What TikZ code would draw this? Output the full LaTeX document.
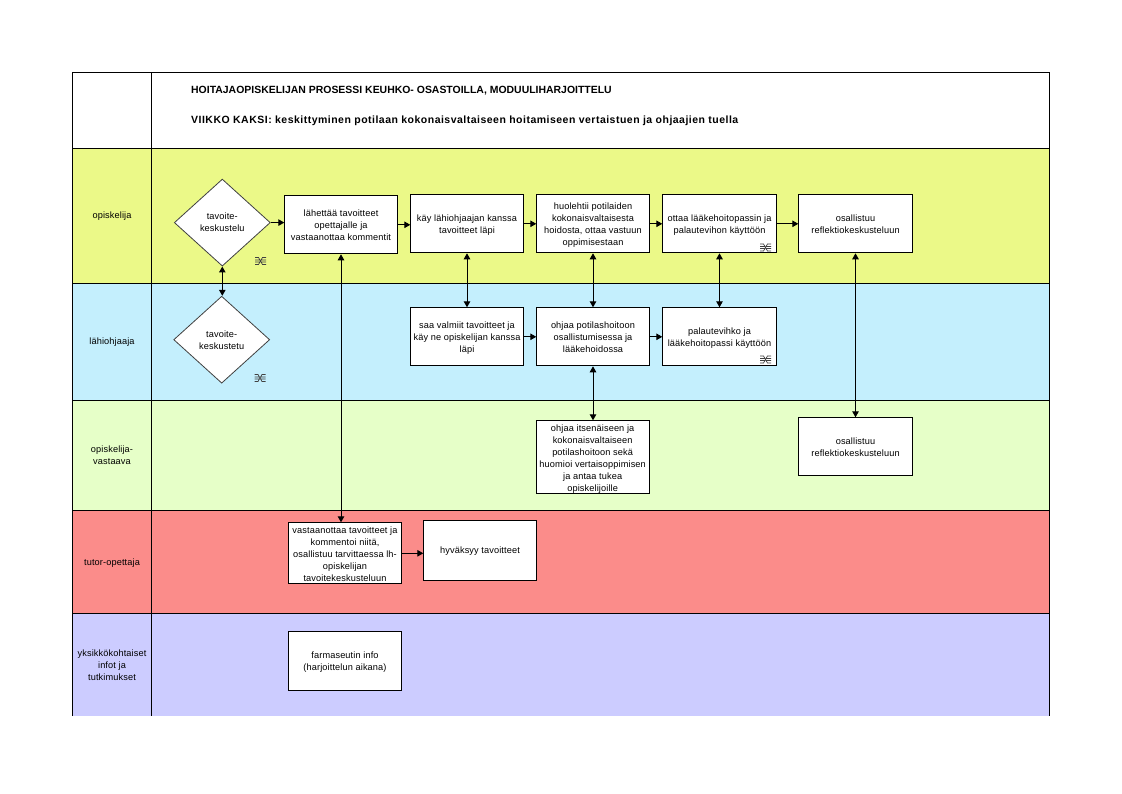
\documentclass[tikz,border=0pt]{standalone}
\usepackage{fontspec}
\setmainfont{Liberation Sans}
\usetikzlibrary{arrows.meta,shapes.geometric}
\definecolor{cyel}{HTML}{EBF988}
\definecolor{cblu}{HTML}{C4EFFD}
\definecolor{cgrn}{HTML}{E6FFC8}
\definecolor{cred}{HTML}{FB8C8A}
\definecolor{cpur}{HTML}{CCCCFF}
\newcommand{\bodyfont}{\addfontfeature{LetterSpace=1.3}\fontsize{9.2}{12}\selectfont}
\newcommand{\topstrut}[1]{\rule{0pt}{#1pt}}
\newcommand{\botstrut}{\rule[-3.7pt]{0pt}{3.7pt}}
\newcommand{\lowstrut}{\rule[-1.9pt]{0pt}{1.9pt}}
\tikzset{
 x=1pt,y=-1pt,
 band/.style={draw=black,line width=1pt},
 task/.style={draw=black,fill=white,line width=1pt,align=center,font=\bodyfont,inner sep=0pt,anchor=north west},
 dec/.style={draw=black!75,fill=white,line width=0.8pt,diamond,aspect=1,minimum width=96pt,minimum height=87pt,inner sep=0pt,align=center,font=\bodyfont},
 lane/.style={align=center,font=\bodyfont,inner sep=0pt},
 titleone/.style={anchor=west,inner sep=0pt,font=\bfseries\fontsize{10.45}{12}\selectfont},
 titletwo/.style={anchor=west,inner sep=0pt,font=\bfseries\addfontfeature{LetterSpace=4.6}\fontsize{10.5}{12}\selectfont},
 flow/.style={draw=black,line width=1pt,-{Triangle[length=6pt,width=6.5pt]}},
 both/.style={draw=black,line width=1pt,{Triangle[length=6pt,width=6.5pt]}-{Triangle[length=6pt,width=6.5pt]}},
 linkmark/.pic={\draw[black!75,line width=0.7pt] (-5.5,-3.5)--(-2,-3.5)--(2,3.5)--(5.5,3.5) (-5.5,3.5)--(-2,3.5)--(2,-3.5)--(5.5,-3.5) (-5.5,-1)--(-1,-1) (1,-1)--(5.5,-1) (-5.5,1)--(-1,1) (1,1)--(5.5,1);}
}
\newcommand{\taskbox}[7]{\node[task,minimum width=#4pt-#2pt,minimum height=#5pt-#3pt] (#1) at (#2,#3) {\topstrut{#7}#6\botstrut};}
\newcommand{\tightbox}[6]{\node[task,minimum width=#4pt-#2pt,minimum height=#5pt-#3pt] (#1) at (#2,#3) {\topstrut{11}#6\lowstrut};}
\begin{document}
\begin{tikzpicture}
\useasboundingbox (0,0) rectangle (1122,794);
\fill[white] (0,0) rectangle (1122,794);
\fill[cyel] (72,148) rectangle (1049,283);
\fill[cblu] (72,283) rectangle (1049,400);
\fill[cgrn] (72,400) rectangle (1049,510);
\fill[cred] (72,510) rectangle (1049,613);
\fill[cpur] (72,613) rectangle (1049,716);
\draw[band] (72.3,716)--(72.3,72.5)--(1049,72.5)--(1049,716);
\draw[band] (151.5,72.5)--(151.5,716);
\foreach \yy in {148.3,283.3,400,510.5,613.3} \draw[band] (72.3,\yy)--(1049,\yy);
\node[titleone] (t1) at (191,91) {HOITAJAOPISKELIJAN PROSESSI KEUHKO- OSASTOILLA, MODUULIHARJOITTELU};
\node[titletwo] (t2) at (191,120.7) {VIIKKO KAKSI: keskittyminen potilaan kokonaisvaltaiseen hoitamiseen vertaistuen ja ohjaajien tuella};
\node[lane] (l1) at (112,215) {\topstrut{10.3}opiskelija\botstrut};
\node[lane] (l2) at (112,341) {\topstrut{10.3}lähiohjaaja\botstrut};
\node[lane] (l3) at (112,455) {\topstrut{10.3}opiskelija-\\vastaava\botstrut};
\node[lane] (l4) at (112,562) {\topstrut{10.3}tutor-opettaja\botstrut};
\node[lane] (l5) at (112,665) {\topstrut{10.3}yksikkökohtaiset\\infot ja\\tutkimukset\botstrut};
\node[dec] (d1) at (222.3,222.6) {\topstrut{10.3}tavoite-\\keskustelu\botstrut};
\node[dec] (d2) at (221.7,339.7) {\topstrut{10.3}tavoite-\\keskustetu\botstrut};
\taskbox{b1}{284.3}{195.3}{396.7}{253.3}{lähettää tavoitteet\\opettajalle ja\\vastaanottaa kommentit}{10.3}
\taskbox{b2}{410.3}{194.3}{522.7}{252.3}{käy lähiohjaajan kanssa\\tavoitteet läpi}{10.8}
\taskbox{b3}{536.3}{194.3}{648.7}{252.3}{huolehtii potilaiden\\kokonaisvaltaisesta\\hoidosta, ottaa vastuun\\oppimisestaan}{10.8}
\taskbox{b4}{662.3}{194.3}{775.7}{252.3}{ottaa lääkehoitopassin ja\\palautevihon käyttöön}{10.8}
\taskbox{b5}{798.3}{194.3}{911.7}{252.3}{osallistuu\\reflektiokeskusteluun}{10.8}
\taskbox{b6}{410.3}{307.3}{522.7}{365.3}{saa valmiit tavoitteet ja\\käy ne opiskelijan kanssa\\läpi}{10.3}
\taskbox{b7}{536.3}{307.3}{648.7}{365.3}{ohjaa potilashoitoon\\osallistumisessa ja\\lääkehoidossa}{10.3}
\taskbox{b8}{662.3}{307.3}{775.7}{365.3}{palautevihko ja\\lääkehoitopassi käyttöön}{10.3}
\tightbox{b9}{535.6}{420.3}{648.7}{493.3}{ohjaa itsenäiseen ja\\kokonaisvaltaiseen\\potilashoitoon sekä\\huomioi vertaisoppimisen\\ja antaa tukea\\opiskelijoille}
\taskbox{b10}{798.3}{417.3}{911.7}{475.3}{osallistuu\\reflektiokeskusteluun}{10.3}
\tightbox{b11}{288.3}{522.3}{400.7}{583.3}{vastaanottaa tavoitteet ja\\kommentoi niitä,\\osallistuu tarvittaessa lh-\\opiskelijan\\tavoitekeskusteluun}
\taskbox{b12}{423.3}{520.3}{535.7}{579.7}{hyväksyy tavoitteet}{10.3}
\taskbox{b13}{288.3}{631.3}{400.7}{690.3}{farmaseutin info\\(harjoittelun aikana)}{10.3}
\pic at (260.5,261) {linkmark};
\pic at (260,378) {linkmark};
\pic at (765.5,247.5) {linkmark};
\pic at (765.5,359.5) {linkmark};
\draw[flow] (d1.east) -- (d1.east -| b1.west);
\draw[flow] (b1.east) -- (b1.east -| b2.west);
\draw[flow] (b2.east) -- (b3.west);
\draw[flow] (b3.east) -- (b4.west);
\draw[flow] (b4.east) -- (b5.west);
\draw[flow] (b6.east) -- (b7.west);
\draw[flow] (b7.east) -- (b8.west);
\draw[flow] (b11.east) -- (b11.east -| b12.west);
\draw[both] (d1.south) -- (d1.south |- d2.north);
\draw[both] (b1.south) -- (b1.south |- b11.north);
\draw[both] (b2.south) -- (b6.north);
\draw[both] (b3.south) -- (b7.north);
\draw[both] (b7.south) -- (b7.south |- b9.north);
\draw[both] (b4.south) -- (b8.north);
\draw[both] (b5.south) -- (b10.north);
\end{tikzpicture}
\end{document}
